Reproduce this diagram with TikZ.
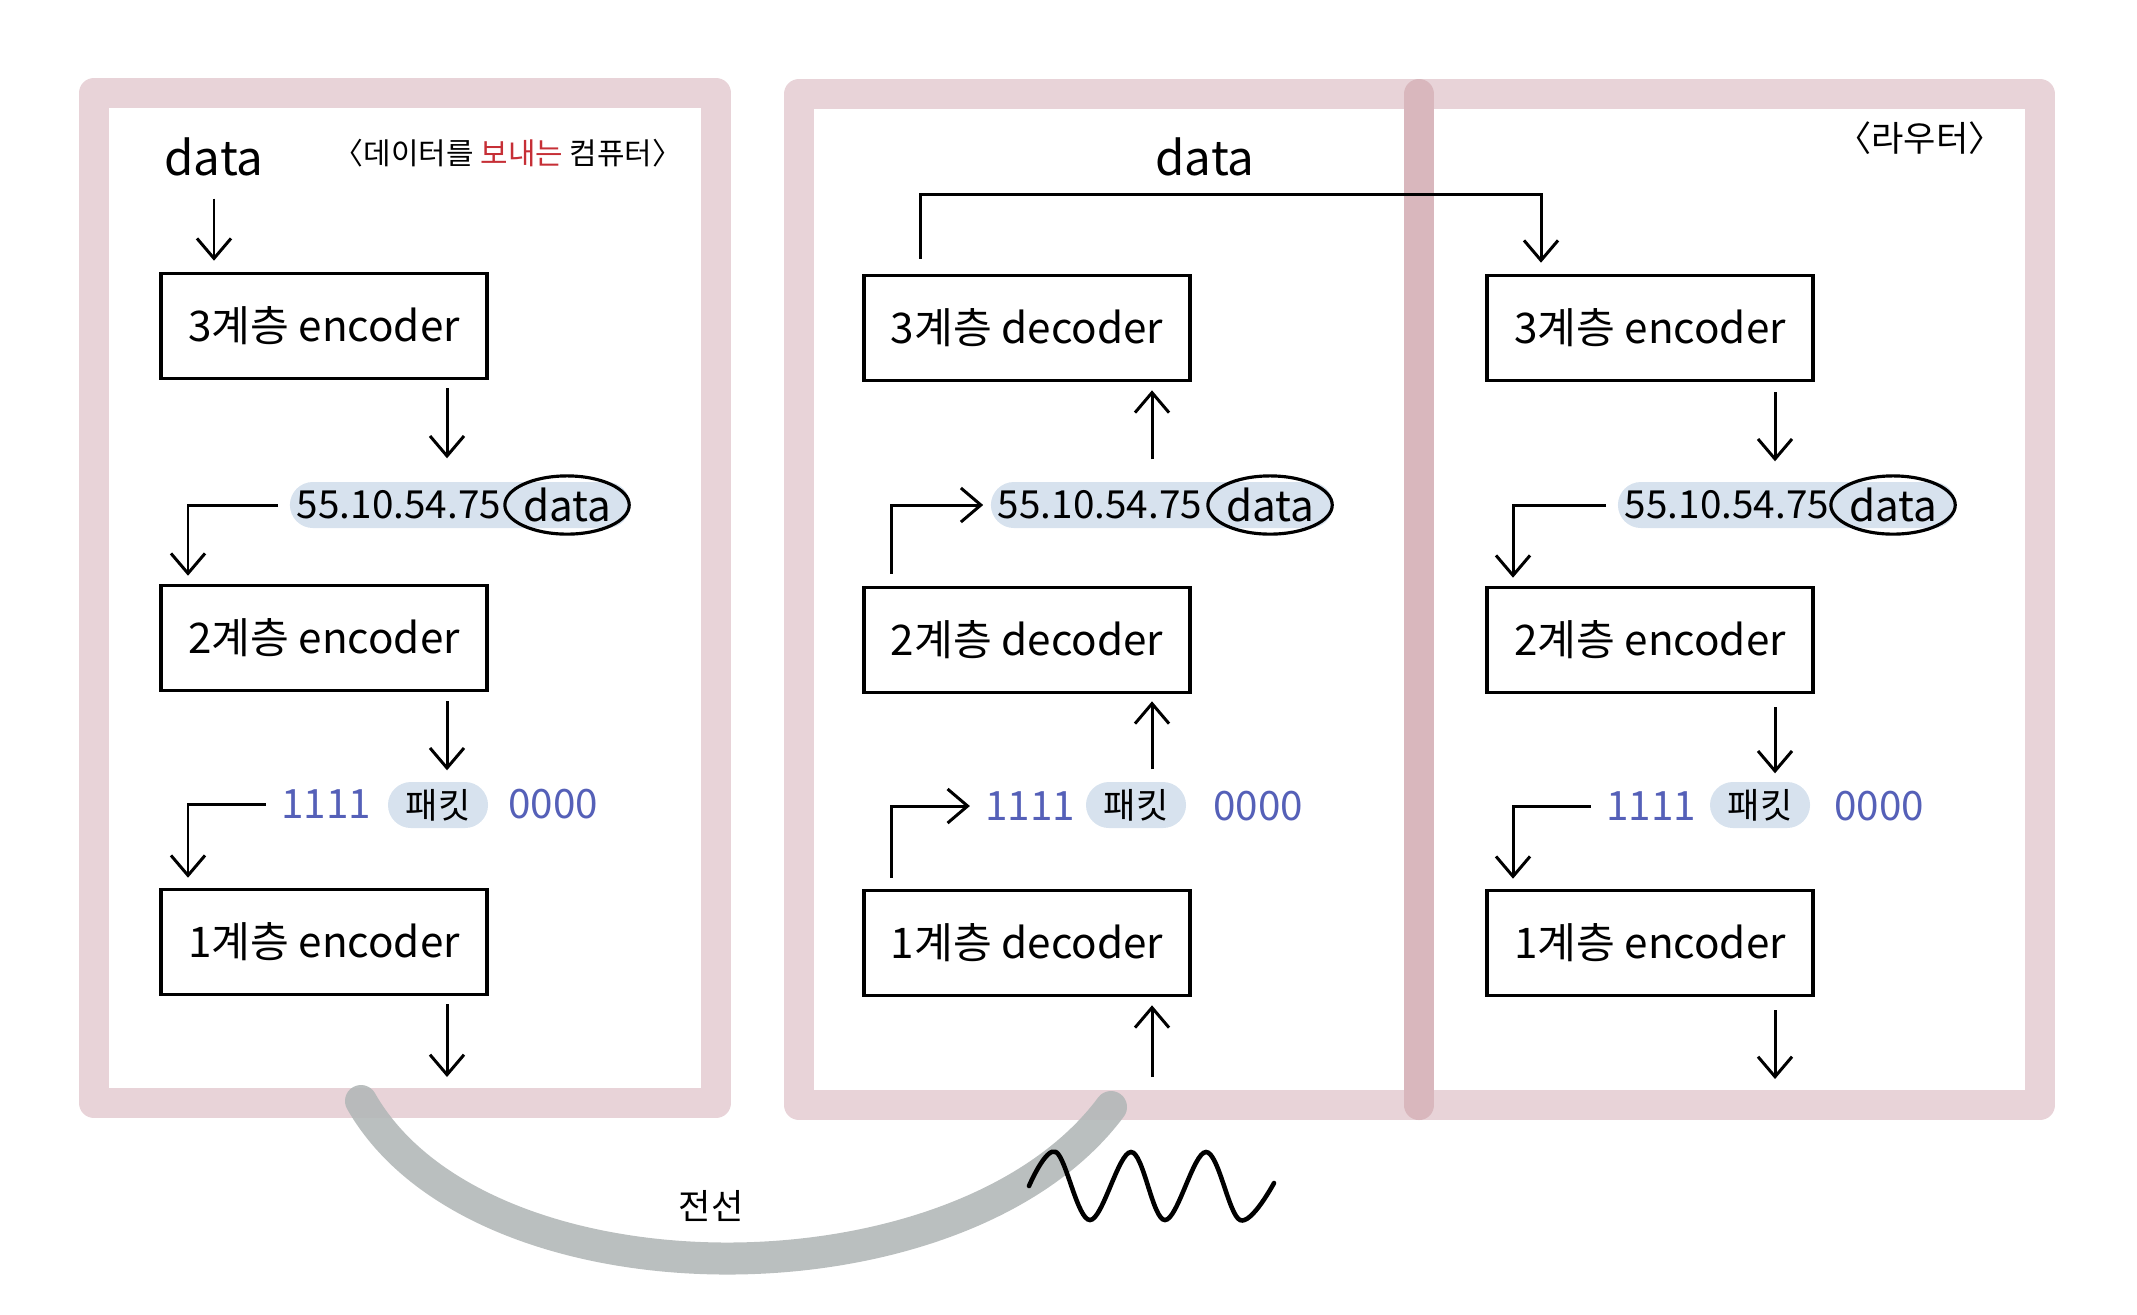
\documentclass[tikz,border=0pt]{standalone}
\usepackage{fontspec}
\setmainfont{Noto Sans CJK KR}
\usetikzlibrary{arrows.meta,shapes.geometric}
\definecolor{framepink}{HTML}{E8D3D8}
\definecolor{dividerpink}{HTML}{D9B7BD}
\definecolor{pillblue}{HTML}{D7E2EE}
\definecolor{bitblue}{HTML}{5560B8}
\definecolor{sendred}{HTML}{C62F36}
\definecolor{wiregray}{HTML}{B3B8B8}
\tikzset{
  layerbox/.style={draw,line width=1pt,minimum width=3.26cm,minimum height=1.05cm,font=\fontsize{12}{14}\selectfont},
  pill/.style={fill=pillblue,rounded corners=2.3mm,minimum height=4.6mm,inner sep=0pt},
  iptext/.style={font=\fontsize{11}{13}\selectfont,inner sep=2pt},
  dataring/.style={draw,ellipse,line width=.9pt,inner xsep=0pt,inner ysep=1pt,font=\fontsize{12}{14}\selectfont},
  bits/.style={text=bitblue,font=\fontsize{11.5}{14}\selectfont,inner sep=1pt},
  pkt/.style={pill,minimum width=1cm,font=\fontsize{10}{12}\selectfont},
  flow/.style={->,line width=.85pt},
  title/.style={font=\fontsize{8.5}{10}\selectfont},
  hand/.style={font=\fontsize{13.5}{16}\selectfont},
}
\begin{document}
\begin{tikzpicture}[x=0.01cm,y=-0.01cm,>={Straight Barb[length=2mm,width=3.4mm]}]
\useasboundingbox (0,0) rectangle (2137,1314);
% frames
\draw[framepink,line width=3mm,line join=round] (94,93) rectangle (716,1103);
\draw[framepink,line width=3mm,line join=round] (799,94) rectangle (2040,1105);
\draw[dividerpink,line width=3mm,line cap=round] (1419,94)--(1419,1105);
% sending computer
\node[hand] (dataA) at (214,157) {data};
\node[title] (senderA) at (508,153) {〈데이터를 {\color{sendred}보내는} 컴퓨터〉};
\node[layerbox] (enc3A) at (324,326) {3계층 encoder};
\node[layerbox] (enc2A) at (324,638) {2계층 encoder};
\node[layerbox] (enc1A) at (324,942) {1계층 encoder};
\coordinate (cA) at (447,0); \coordinate (kA) at (188,0); \coordinate (outA) at (447,1077);
\node[pill,minimum width=3.4cm] (pA) at (460,505) {};
\node[iptext,anchor=west] (ipA) at (pA.west) {55.10.54.75};
\node[dataring,anchor=east] (dA) at (pA.east) {data};
\node[bits] (oneA) at (326,804) {1111};
\node[pkt] (pkA) at (438,805) {패킷};
\node[bits] (zeroA) at (553,804) {0000};
\draw[flow,shorten <=1mm,shorten >=1.1mm] (dataA) -- (enc3A.north -| dataA);
\draw[flow,shorten <=.8mm,shorten >=2.3mm] (enc3A.south -| cA) -- (pA.north -| cA);
\draw[flow,shorten <=1.1mm,shorten >=.8mm] (pA.west) -| (enc2A.north -| kA);
\draw[flow,shorten <=.9mm,shorten >=1.1mm] (enc2A.south -| cA) -- (pkA.north -| cA);
\draw[flow,shorten <=1.1mm,shorten >=1mm] (oneA.west) -| (enc1A.north -| kA);
\draw[flow,shorten <=.8mm] (enc1A.south -| cA) -- (outA);
% receiving side
\node[hand] (dataB) at (1205,157) {data};
\node[layerbox] (dec3B) at (1027,328) {3계층 decoder};
\node[layerbox] (dec2B) at (1027,640) {2계층 decoder};
\node[layerbox] (dec1B) at (1027,943) {1계층 decoder};
\coordinate (cB) at (1152,0); \coordinate (kB) at (891,0); \coordinate (tB) at (920,0);
\coordinate (inB) at (1152,1077); \coordinate (bridge) at (1230,194);
\node[pill,minimum width=3.42cm] (pB) at (1162,505) {};
\node[iptext,anchor=west] (ipB) at (pB.west) {55.10.54.75};
\node[dataring,anchor=east] (dB) at (pB.east) {data};
\node[bits] (oneB) at (1030,806) {1111};
\node[pkt] (pkB) at (1136,805) {패킷};
\node[bits] (zeroB) at (1258,806) {0000};
\draw[flow,shorten >=.8mm] (inB) -- (dec1B.south -| cB);
\draw[flow,shorten <=1.2mm,shorten >=.7mm] (pkB.north -| cB) -- (dec2B.south -| cB);
\draw[flow,shorten <=2.2mm,shorten >=.8mm] (pB.north -| cB) -- (dec3B.south -| cB);
\draw[flow,shorten <=1.2mm,shorten >=.7mm] (dec2B.north -| kB) |- (pB.west);
\draw[flow,shorten <=1.1mm,shorten >=1.1mm] (dec1B.north -| kB) |- (oneB.west);
% router
\node[title,font=\fontsize{10}{12}\selectfont] (routerC) at (1920,138) {〈라우터〉};
\node[layerbox] (enc3C) at (1650,328) {3계층 encoder};
\node[layerbox] (enc2C) at (1650,640) {2계층 encoder};
\node[layerbox] (enc1C) at (1650,943) {1계층 encoder};
\coordinate (cC) at (1775,0); \coordinate (kC) at (1513,0); \coordinate (tC) at (1541,0);
\coordinate (outC) at (1775,1079);
\node[pill,minimum width=3.38cm] (pC) at (1787,505) {};
\node[iptext,anchor=west] (ipC) at (pC.west) {55.10.54.75};
\node[dataring,anchor=east] (dC) at (pC.east) {data};
\node[bits] (oneC) at (1651,806) {1111};
\node[pkt] (pkC) at (1760,805) {패킷};
\node[bits] (zeroC) at (1879,806) {0000};
\draw[flow,shorten <=1.5mm,shorten >=1.1mm] (dec3B.north -| tB) |- (bridge) -| (enc3C.north -| tC);
\draw[flow,shorten <=1mm,shorten >=2mm] (enc3C.south -| cC) -- (pC.north -| cC);
\draw[flow,shorten <=1.1mm,shorten >=.8mm] (pC.west) -| (enc2C.north -| kC);
\draw[flow,shorten <=1.3mm,shorten >=.8mm] (enc2C.south -| cC) -- (pkC.north -| cC);
\draw[flow,shorten <=1.1mm,shorten >=1mm] (oneC.west) -| (enc1C.north -| kC);
\draw[flow,shorten <=1.3mm] (enc1C.south -| cC) -- (outC);
% wire and signal
\draw[wiregray,opacity=.9,line width=3.2mm,line cap=round] (361,1101) .. controls (480,1310) and (960,1310) .. (1111,1107);
\node[font=\fontsize{10}{12}\selectfont] (wire) at (711,1206) {전선};
\draw[line width=1.3pt,line cap=round] plot[smooth,tension=.6] coordinates {(1029,1186) (1056,1152) (1090,1220) (1131,1152) (1165,1220) (1206,1152) (1240,1220) (1274,1183)};
\end{tikzpicture}
\end{document}
